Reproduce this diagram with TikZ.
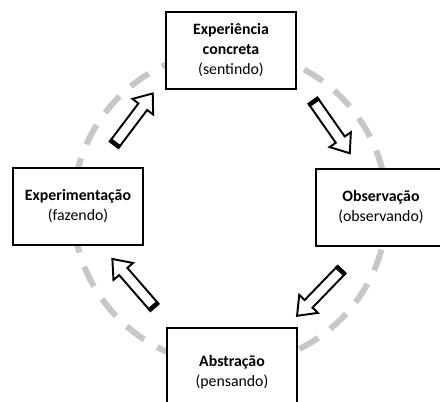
\documentclass[tikz,border=0pt]{standalone}
\usepackage{fontspec}
\setmainfont{Carlito}
\usetikzlibrary{shapes.arrows}

\tikzset{
	box/.style={draw,fill=white,line width=1.1pt,minimum width=2.6cm,minimum height=1.54cm,align=center,font=\fontsize{9}{11.4}\selectfont},
	blockarrow/.style={single arrow,draw,fill=white,line width=1.1pt,inner sep=0.09cm,minimum width=0.48cm,minimum height=1.24cm,single arrow head extend=0.15cm,single arrow tip angle=76}
}

\begin{document}
\begin{tikzpicture}[x=0.02cm,y=0.02cm]
			\useasboundingbox (0,0) rectangle (440,402);
			\clip (0,0) rectangle (440,402);
			\draw[black!22,line width=3.4pt,dash pattern=on 12.5pt off 8.5pt] (230,194) circle (157);
			\node[box] (konkret) at (231,351.5) {\textbf{Experiência}\\\textbf{concreta}\\(sentindo)};
			\node[box] (experiment) at (78,195.5) {\textbf{Experimentação}\\(fazendo)};
			\node[box] (beobacht) at (381,194.5) {\textbf{Observação}\\(observando)};
			\node[box,minimum height=1.76cm] (abstrakt) at (232,30) {\textbf{Abstração}\\(pensando)};
			\node[blockarrow,rotate=-55] (p1) at (330,277) {};
			\node[blockarrow,rotate=-134] (p2) at (321,111) {};
			\node[blockarrow,rotate=131] (p3) at (135,117) {};
			\node[blockarrow,rotate=53] (p4) at (132,281) {};
			\foreach \p in {p1,p2,p3,p4}
				\draw[line width=2.6pt] (\p.before tail) -- (\p.after tail);
		\end{tikzpicture}
\end{document}
